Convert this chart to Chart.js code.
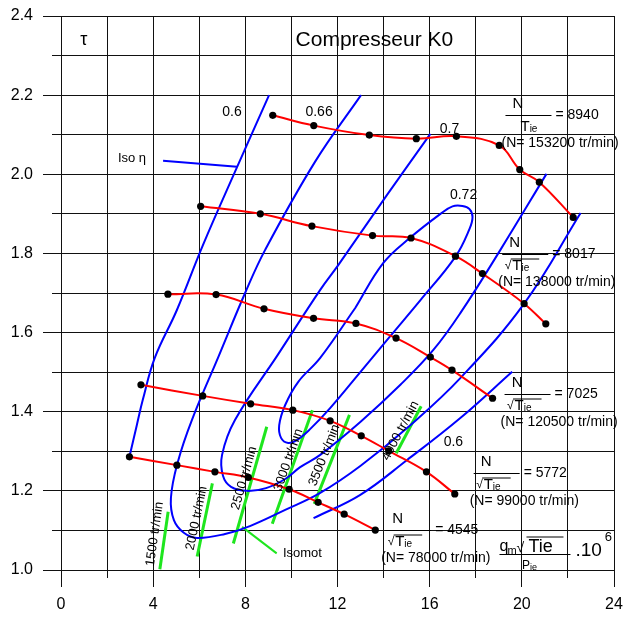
<!DOCTYPE html>
<html>
<head>
<meta charset="utf-8">
<script src="https://cdn.jsdelivr.net/npm/chart.js@4.4.1/dist/chart.umd.min.js"></script>
<style>
  html, body { margin: 0; padding: 0; background: #fff; }
  #c { display: block; }
</style>
</head>
<body>
<canvas id="c" width="623" height="617"></canvas>
<script>
// Compressor K0 map: reduced mass flow (x) vs pressure ratio tau (y)

// Iso-speed lines (N / sqrt(Tie)), measured points
const iso8940 = [[9.19,2.149],[10.97,2.123],[13.38,2.099],[15.42,2.090],[17.16,2.096],[19.02,2.073],[19.91,2.012],[20.76,1.980],[22.23,1.891]];
const iso8017 = [[6.06,1.919],[8.65,1.900],[10.89,1.869],[13.52,1.845],[15.19,1.839],[17.12,1.793],[18.29,1.749],[20.10,1.673],[21.04,1.622]];
const iso7025 = [[4.64,1.697],[6.73,1.696],[8.81,1.660],[10.96,1.636],[12.80,1.623],[14.54,1.586],[16.03,1.538],[16.97,1.505],[18.73,1.434]];
const iso5772 = [[3.47,1.468],[6.15,1.440],[8.23,1.420],[10.06,1.404],[11.68,1.377],[13.03,1.339],[14.22,1.301],[15.86,1.248],[17.09,1.192]];
const iso4545 = [[2.97,1.286],[5.03,1.265],[6.68,1.248],[8.13,1.234],[9.90,1.204],[11.16,1.171],[12.29,1.141],[13.64,1.101]];
const speedValues = ['8940', '8017', '7025', '5772', '4545'];
const speedRpm = ['153200', '138000', '120500', '99000', '78000'];

// Iso-efficiency contours
const eta060Upper = [[9.03,2.200],[7.64,2.018],[6.16,1.821],[5.03,1.657],[4.07,1.536],[3.55,1.430],[3.29,1.366],[2.97,1.286]];
const eta060Lower = [[10.96,1.131],[12.99,1.190],[15.02,1.278],[17.33,1.384],[19.58,1.501]];
const eta066 = [[13.02,2.200],[11.03,2.032],[8.86,1.809],[7.99,1.700],[6.84,1.540],[5.68,1.379],[5.07,1.273],[4.77,1.182],[4.90,1.126],[5.33,1.094],[5.90,1.081],[7.12,1.091],[8.20,1.111],[9.73,1.152],[11.25,1.195],[12.99,1.263],[15.16,1.366],[17.33,1.485],[20.10,1.673],[22.55,1.902]];
const eta070 = [[16.03,2.102],[14.15,1.948],[12.04,1.771],[11.25,1.708],[9.40,1.543],[7.55,1.379],[6.99,1.291],[7.03,1.238],[7.38,1.210],[8.07,1.200],[8.90,1.207],[9.73,1.230],[10.38,1.260],[11.25,1.291],[12.99,1.374],[14.73,1.468],[16.16,1.556],[17.33,1.649],[19.07,1.809],[21.07,2.001]];
const eta072 = [[12.77,1.662],[13.99,1.776],[15.16,1.840],[16.47,1.900],[16.99,1.919],[17.42,1.920],[17.73,1.912],[17.86,1.892],[17.73,1.862],[17.12,1.792],[15.60,1.682],[14.29,1.591],[12.99,1.500],[11.68,1.409],[10.81,1.356],[10.25,1.329],[9.86,1.321],[9.55,1.334],[9.47,1.366],[9.73,1.417],[10.29,1.475],[11.25,1.536],[12.77,1.662]];
const etaLabels = ['0.6', '0.66', '0.7', '0.72', '0.6'];
const isoEtaLeader = [[4.43,2.034],[7.64,2.019]];

// Iso-motor-speed segments (tr/min)
const isomot1500 = [[4.29,1.002],[4.65,1.147]];
const isomot2000 = [[5.91,1.034],[6.57,1.219]];
const isomot2500 = [[7.48,1.067],[8.93,1.362]];
const isomot3000 = [[9.17,1.117],[10.91,1.404]];
const isomot3500 = [[10.99,1.167],[12.52,1.392]];
const isomot4000 = [[14.55,1.295],[15.63,1.414]];
const isomotRpm = ['1500', '2000', '2500', '3000', '3500', '4000'];
const isomotLeader = [[7.86,1.109],[9.36,1.042]];

// Axis ticks
const xTickLabels = [0, 4, 8, 12, 16, 20, 24];
const yTickLabels = ['1.0', '1.2', '1.4', '1.6', '1.8', '2.0', '2.2', '2.4'];

// ---- layout of the text placed on the plot (data coordinates) ----
const etaLabelPos = [[7.42,2.157],[11.20,2.157],[16.86,2.114],[17.47,1.948],[17.03,1.323]];
const speedLabelPos = [[19.29,2.150],[19.15,1.799],[19.25,1.445],[17.91,1.244],[14.07,1.101]];
const isomotLabelPos = [[4.07,1.091],[5.89,1.131],[7.95,1.232],[9.87,1.278],[11.43,1.290],[14.73,1.352]];
const isoEtaLabelPos = [3.08, 2.039];
const isomotTextPos = [9.63, 1.043];
const titlePos = [13.6, 2.339];
const tauPos = [0.99, 2.339];
const axisLabelPos = [19.03, 1.0405];

const FONT = '"Liberation Sans", Arial, Helvetica, sans-serif';
const GRID = '#111';
const RED = '#ff0000';
const BLUE = '#0000ff';
const GREEN = '#1ee61e';

const pts = arr => arr.map(([x, y]) => ({ x, y }));

function speedSet(arr) {
  return {
    data: pts(arr), borderColor: RED, borderWidth: 2, tension: 0.4,
    pointRadius: 3.6, pointBackgroundColor: '#000', pointBorderWidth: 0,
    pointHoverRadius: 3.6, order: 1
  };
}
function etaSet(arr, tension) {
  return {
    data: pts(arr), borderColor: BLUE, borderWidth: 2, tension: tension,
    pointRadius: 0, pointHoverRadius: 0, order: 2
  };
}
function greenSet(arr, w) {
  return {
    data: pts(arr), borderColor: GREEN, borderWidth: w, tension: 0,
    pointRadius: 0, pointHoverRadius: 0, order: 3, borderCapStyle: 'butt'
  };
}

const isomotLines = [isomot1500, isomot2000, isomot2500, isomot3000, isomot3500, isomot4000];

const datasets = [
  speedSet(iso8940), speedSet(iso8017), speedSet(iso7025), speedSet(iso5772), speedSet(iso4545),
  etaSet(eta060Upper, 0.4), etaSet(eta060Lower, 0.4), etaSet(eta066, 0.4),
  etaSet(eta070, 0.4), etaSet(eta072, 0.4), etaSet(isoEtaLeader, 0),
  ...isomotLines.map(l => greenSet(l, 3)), greenSet(isomotLeader, 2)
];

const isMajorX = v => Math.round(v) % 4 === 0;
const isMajorY = v => Math.round(v * 10) % 2 === 0;

// short ticks for the minor grid lines
const minorTicks = {
  id: 'minorTicks',
  afterDraw(chart) {
    const { ctx, chartArea: a, scales: { x, y } } = chart;
    ctx.save();
    ctx.strokeStyle = GRID; ctx.lineWidth = 1;
    ctx.beginPath();
    x.ticks.forEach(t => {
      if (!isMajorX(t.value)) {
        const p = Math.round(x.getPixelForValue(t.value) - 0.5) + 0.5;
        ctx.moveTo(p, a.bottom); ctx.lineTo(p, a.bottom + 8);
      }
    });
    y.ticks.forEach(t => {
      if (!isMajorY(t.value)) {
        const p = Math.round(y.getPixelForValue(t.value) - 0.5) + 0.5;
        ctx.moveTo(a.left - 9, p); ctx.lineTo(a.left, p);
      }
    });
    ctx.stroke();
    ctx.restore();
  }
};

// all the text drawn inside the plot
const annotate = {
  id: 'annotate',
  afterDatasetsDraw(chart) {
    const { ctx, scales: { x, y } } = chart;
    const px = v => x.getPixelForValue(v);
    const py = v => y.getPixelForValue(v);
    const font = s => (ctx.font = s + 'px ' + FONT);
    const text = (s, X, Y, size, align = 'left', base = 'middle') => {
      font(size); ctx.textAlign = align; ctx.textBaseline = base; ctx.fillText(s, X, Y);
    };
    const seg = (x1, y1, x2, y2) => {
      ctx.beginPath(); ctx.moveTo(x1, y1); ctx.lineTo(x2, y2); ctx.stroke();
    };
    ctx.save();
    ctx.fillStyle = '#000';
    ctx.strokeStyle = '#000';
    ctx.lineWidth = 1;

    // title and tau
    text('Compresseur K0', px(titlePos[0]), py(titlePos[1]), 21, 'center');
    text('τ', px(tauPos[0]), py(tauPos[1]), 18, 'center');

    // efficiency labels
    etaLabels.forEach((s, i) => text(s, px(etaLabelPos[i][0]), py(etaLabelPos[i][1]), 14, 'center'));
    text('Iso η', px(isoEtaLabelPos[0]), py(isoEtaLabelPos[1]), 13, 'center');

    // iso-speed labels: N / sqrt(Tie) = value, (N= rpm tr/min)
    speedValues.forEach((v, i) => {
      const X = px(speedLabelPos[i][0]), Y = Math.round(py(speedLabelPos[i][1])) + 0.5;
      const root = i > 0;
      seg(X, Y, X + 46, Y);
      text('N', X + 12.5, Y - 12, 15, 'center');
      let tx = X + 15;
      if (root) {
        text('√', X + 2.5, Y + 11, 12, 'left');
        seg(X + 8.5, Y + 4.5, X + 37, Y + 4.5);
        tx = X + 10;
      }
      text('T', tx, Y + 11.5, 15, 'left');
      font(15);
      const tw = ctx.measureText('T').width;
      text('ie', tx + tw, Y + 14, 10, 'left');
      text('= ' + v, X + 50, Y, 14, 'left');
      text('(N= ' + speedRpm[i] + ' tr/min)', X - 4, Y + 27.5, 14, 'left');
    });

    // motor-speed labels along the green segments
    isomotLines.forEach((ln, i) => {
      const x1 = px(ln[0][0]), y1 = py(ln[0][1]), x2 = px(ln[1][0]), y2 = py(ln[1][1]);
      const ang = Math.atan2(y2 - y1, x2 - x1);
      ctx.save();
      ctx.translate(px(isomotLabelPos[i][0]), py(isomotLabelPos[i][1]));
      ctx.rotate(ang);
      text(isomotRpm[i] + ' tr/min', 0, 0, 13, 'center');
      ctx.restore();
    });
    text('Isomot', px(isomotTextPos[0]), py(isomotTextPos[1]), 13, 'left');

    // abscissa quantity: qm sqrt(Tie) / Pie . 10^6
    const X0 = px(axisLabelPos[0]), Y0 = Math.round(py(axisLabelPos[1])) + 0.5;
    seg(X0, Y0, X0 + 71, Y0);
    text('q', X0, Y0 - 3.5, 16, 'left', 'alphabetic');
    text('m', X0 + 8, Y0 - 1, 11, 'left', 'alphabetic');
    text('√', X0 + 17, Y0 - 2.5, 14, 'left', 'alphabetic');
    seg(X0 + 27, Y0 - 17.5, X0 + 64, Y0 - 17.5);
    text('Tie', X0 + 29, Y0 - 2.5, 18, 'left', 'alphabetic');
    text('P', X0 + 22.5, Y0 + 11, 12, 'left');
    font(12);
    const pw = ctx.measureText('P').width;
    text('ie', X0 + 22.5 + pw, Y0 + 13, 9, 'left');
    text('.10', X0 + 76, Y0 + 1, 19, 'left', 'alphabetic');
    text('6', X0 + 109, Y0 - 17, 13, 'center');

    ctx.restore();
  }
};

new Chart(document.getElementById('c'), {
  type: 'line',
  data: { datasets },
  options: {
    responsive: false,
    animation: false,
    devicePixelRatio: 1,
    layout: { padding: { top: 16, right: 9, left: 0, bottom: 0 } },
    plugins: { legend: { display: false }, tooltip: { enabled: false } },
    events: [],
    scales: {
      x: {
        type: 'linear', min: 0, max: 24,
        afterFit(s) { s.height = 47; s.paddingLeft = 0; s.paddingRight = 0; },
        ticks: {
          stepSize: 2, autoSkip: false, maxRotation: 0, padding: 8, color: '#000',
          font: { family: FONT, size: 16 },
          callback: v => (xTickLabels.includes(Math.round(v)) && isMajorX(v) ? String(Math.round(v)) : '')
        },
        grid: {
          color: GRID, lineWidth: 1, tickLength: 17,
          tickColor: c => (c.tick && isMajorX(c.tick.value) ? GRID : 'rgba(0,0,0,0)')
        },
        border: { color: GRID, width: 1 }
      },
      y: {
        type: 'linear', min: 1, max: 2.4,
        afterFit(s) { s.width = 61; s.paddingTop = 0; s.paddingBottom = 0; },
        ticks: {
          stepSize: 0.1, autoSkip: false, padding: 10, color: '#000',
          font: { family: FONT, size: 16 },
          callback: v => (isMajorY(v) ? yTickLabels[Math.round((v - 1) * 5)] : '')
        },
        grid: {
          color: GRID, lineWidth: 1, tickLength: 18,
          tickColor: c => (c.tick && isMajorY(c.tick.value) ? GRID : 'rgba(0,0,0,0)')
        },
        border: { color: GRID, width: 1 }
      }
    }
  },
  plugins: [minorTicks, annotate]
});
</script>
</body>
</html>
